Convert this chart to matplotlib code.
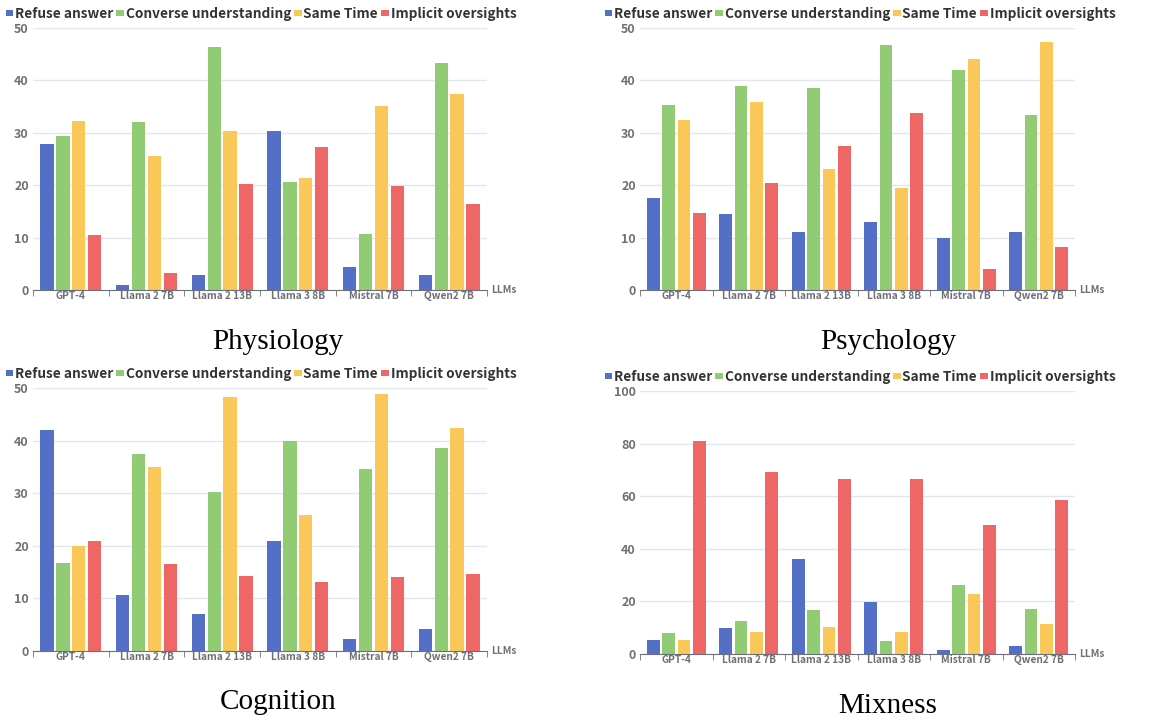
import matplotlib.pyplot as plt
import numpy as np

models = ['GPT-4', 'Llama 2 7B', 'Llama 2 13B', 'Llama 3 8B', 'Mistral 7B', 'Qwen2 7B']
series = ['Refuse answer', 'Converse understanding', 'Same Time', 'Implicit oversights']
colors = ['#5470C6', '#91CC75', '#FAC858', '#EE6666']

# values per panel: rows = series, cols = models
physiology = [
    [27.8, 1.0, 2.9, 30.3, 4.4, 2.8],
    [29.4, 32.0, 46.4, 20.6, 10.6, 43.4],
    [32.2, 25.6, 30.4, 21.4, 35.2, 37.5],
    [10.5, 3.2, 20.3, 27.3, 19.8, 16.4],
]
psychology = [
    [17.6, 14.5, 11.0, 12.9, 9.9, 11.1],
    [35.3, 38.9, 38.5, 46.8, 42.0, 33.4],
    [32.4, 35.9, 23.1, 19.4, 44.1, 47.3],
    [14.6, 20.4, 27.5, 33.8, 4.0, 8.3],
]
cognition = [
    [42.1, 10.7, 7.1, 21.0, 2.2, 4.1],
    [16.8, 37.4, 30.2, 40.0, 34.6, 38.6],
    [19.9, 34.9, 48.2, 25.8, 48.9, 42.4],
    [21.0, 16.6, 14.3, 13.1, 14.0, 14.7],
]
mixness = [
    [5.3, 9.7, 36.1, 19.9, 1.4, 3.2],
    [8.1, 12.4, 16.6, 4.9, 26.1, 17.0],
    [5.3, 8.2, 10.4, 8.2, 23.0, 11.3],
    [80.9, 69.2, 66.5, 66.5, 49.1, 58.4],
]
titles = ['Physiology', 'Psychology', 'Cognition', 'Mixness']
panels = [physiology, psychology, cognition, mixness]
ymaxes = [50, 50, 50, 100]

W, H = 1167, 720
fig = plt.figure(figsize=(W / 100, H / 100), dpi=100)

# pixel boxes: left, right, top, bottom
boxes = [(33, 487, 28, 290), (640, 1075, 28, 290),
         (33, 487, 388, 651), (640, 1075, 391, 654)]
legend_y = [14, 14, 374, 377]
legend_x = [261, 860, 261, 860]
title_pos = [(278, 342), (888, 342), (278, 702), (888, 706)]

sans = ['Noto Sans CJK SC', 'DejaVu Sans']
axis_gray = '#6E7079'
x = np.arange(len(models))
bw = 0.176
pitch = 0.211

for k, (data, ymax) in enumerate(zip(panels, ymaxes)):
    l, r, t, b = boxes[k]
    ax = fig.add_axes([l / W, 1 - b / H, (r - l) / W, (b - t) / H])
    for i, vals in enumerate(data):
        ax.bar(x + (i - 1.5) * pitch, vals, width=bw, color=colors[i],
               label=series[i], zorder=3)
    ax.set_xlim(-0.5, len(models) - 0.5)
    ax.set_ylim(0, ymax)
    ax.set_yticks(np.arange(0, ymax + 1, ymax // 5))
    ax.grid(axis='y', color='#E0E6F1', linewidth=1, zorder=0)
    for s in ['top', 'right', 'left']:
        ax.spines[s].set_visible(False)
    ax.spines['bottom'].set_color(axis_gray)
    ax.spines['bottom'].set_zorder(4)
    ax.set_xticks(x)
    ax.set_xticklabels(models, fontsize=7.3, fontweight='bold', color=axis_gray,
                       family=sans)
    ax.tick_params(axis='x', length=0, pad=1)
    ax.set_xticks(np.arange(-0.5, len(models)), minor=True)
    ax.tick_params(axis='x', which='minor', length=4, color=axis_gray)
    ax.tick_params(axis='y', length=0, pad=3, labelsize=9, labelcolor=axis_gray)
    for lab in ax.get_yticklabels():
        lab.set_fontweight('bold')
        lab.set_family(sans)
    ax.text(1.01, 0, 'LLMs', transform=ax.transAxes, ha='left', va='center',
            fontsize=7.3, fontweight='bold', color=axis_gray, family=sans)
    leg = ax.legend(loc='center', bbox_to_anchor=(legend_x[k] / W, 1 - legend_y[k] / H),
                    bbox_transform=fig.transFigure, ncol=4, frameon=False,
                    handlelength=0.55, handleheight=0.3, handletextpad=0.12,
                    columnspacing=0.25, borderpad=0,
                    prop={'family': sans, 'weight': 'bold', 'size': 9.8})
    for txt in leg.get_texts():
        txt.set_color('#333333')
    fig.text(title_pos[k][0] / W, 1 - title_pos[k][1] / H, titles[k],
             ha='center', va='center', fontsize=21, family='Liberation Serif')

fig.savefig('out.png', dpi=100)
